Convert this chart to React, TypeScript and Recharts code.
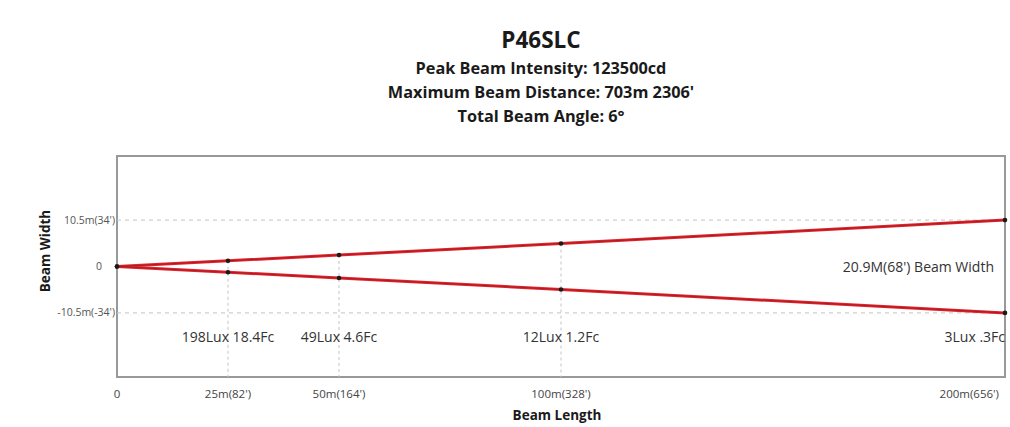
import React from "react";
import {
    ComposedChart, Line, XAxis, YAxis, ReferenceLine, ReferenceArea, ReferenceDot,
} from "recharts";

const distances = [0, 25, 50, 100, 200];
const upperWidth = [0, 1.3, 2.6, 5.2, 10.5];
const lowerWidth = [0, -1.3, -2.6, -5.2, -10.5];

const xTicks = [0, 25, 50, 100, 200];
const xTickLabels = ["0", "25m(82')", "50m(164')", "100m(328')", "200m(656')"];
const yTicks = [-10.5, 0, 10.5];
const yTickLabels = ["-10.5m(-34')", "0", "10.5m(34')"];

const luxDistances = [25, 50, 100, 200];
const luxLabels = ["198Lux 18.4Fc", "49Lux 4.6Fc", "12Lux 1.2Fc", "3Lux .3Fc"];
const luxRow = -16;
const beamWidthLabel = "20.9M(68') Beam Width";
const beamWidthAt = 180.5;

const titleLines = ["Peak Beam Intensity: 123500cd", "Maximum Beam Distance: 703m 2306'", "Total Beam Angle: 6\u00b0"];

const data = distances.map((d, i) => ({d, upper: upperWidth[i], lower: lowerWidth[i]}));

const FONT = "'Open Sans', sans-serif";
const RED = '#e3232c';

const XTick = (props: any) => {
    const {x, y, payload} = props;
    const i = xTicks.indexOf(payload.value);
    const last = i === xTicks.length - 1;
    return (
        <text x={last ? x + 1 : x} y={y + 13} textAnchor={last ? 'end' : 'middle'}
              fontSize={11.5} fill="#444" fontFamily={FONT}>{xTickLabels[i]}</text>
    );
};

const YTick = (props: any) => {
    const {y, payload} = props;
    const i = yTicks.indexOf(payload.value);
    const zero = payload.value === 0;
    return (
        <text x={zero ? 99 : 115} y={y} dy={3.5} textAnchor={zero ? 'middle' : 'end'}
              fontSize={10.5} fill="#555" fontFamily={FONT}>{yTickLabels[i]}</text>
    );
};

const textLabel = (anchor: string) => (props: any) => {
    const {viewBox, value} = props;
    const cx = viewBox.x + viewBox.width / 2;
    const cy = viewBox.y + viewBox.height / 2;
    return (
        <text x={cx} y={cy} dy={5} textAnchor={anchor} fontSize={14} fill="#333" fontFamily={FONT}>{value}</text>
    );
};

export default function App() {
    return (
        <div style={{position: 'absolute', left: 0, top: 0, width: 1010, height: 427, background: '#fff'}}>
            <div style={{
                position: 'absolute', left: 191, top: 24, width: 700, textAlign: 'center',
                fontFamily: FONT, fontWeight: 700, color: '#1a1a1a',
            }}>
                <div style={{fontSize: 22.5, lineHeight: '32px'}}>P46SLC</div>
                {titleLines.map((t) => (
                    <div key={t} style={{fontSize: 16.3, lineHeight: '24px'}}>{t}</div>
                ))}
            </div>
            <ComposedChart width={1010} height={427} data={data}
                           margin={{top: 156, right: 5, bottom: 0, left: 0}}
                           style={{position: 'absolute', left: 0, top: 0}}>
                <XAxis dataKey="d" type="number" domain={[0, 200]} ticks={xTicks}
                       tick={<XTick/>} tickLine={false} axisLine={false} height={50}
                       label={{
                           value: 'Beam Length',
                           content: () => (
                               <text x={557} y={420} textAnchor="middle"
                                     fontSize={13.5} fontWeight={700} fill="#1a1a1a" fontFamily={FONT}>Beam Length</text>
                           ),
                       }}/>
                <YAxis type="number" domain={[-25, 25]} ticks={yTicks} tick={<YTick/>}
                       tickLine={false} axisLine={false} width={117}
                       label={{
                           value: 'Beam Width',
                           content: () => (
                               <text x={50} y={251} transform="rotate(-90 50 251)" textAnchor="middle"
                                     fontSize={13.5} fontWeight={700} fill="#1a1a1a" fontFamily={FONT}>Beam Width</text>
                           ),
                       }}/>
                <ReferenceArea x1={0} x2={200} y1={-25} y2={25} fill="none" stroke="#999" strokeWidth={2}/>
                {yTicks.filter((v) => v !== 0).map((v) => (
                    <ReferenceLine key={v} y={v} stroke="#c4c4c4" strokeDasharray="4 4"/>
                ))}
                {distances.slice(1, -1).map((d, i) => (
                    <ReferenceLine key={d} segment={[{x: d, y: upperWidth[i + 1]}, {x: d, y: -25}]}
                                   stroke="#c4c4c4" strokeDasharray="3 3"/>
                ))}
                {luxDistances.map((d, i) => (
                    <ReferenceDot key={d} x={d} y={luxRow} r={0} fill="none" stroke="none"
                                  label={{value: luxLabels[i], content: textLabel(i === luxDistances.length - 1 ? 'end' : 'middle')}}/>
                ))}
                <ReferenceDot x={beamWidthAt} y={0} r={0} fill="none" stroke="none"
                              label={{value: beamWidthLabel, content: textLabel('middle')}}/>
                <Line dataKey="upper" type="linear" stroke={RED} strokeWidth={3} dot={false} isAnimationActive={false}/>
                <Line dataKey="lower" type="linear" stroke={RED} strokeWidth={3} dot={false} isAnimationActive={false}/>
                <Line dataKey="upper" type="linear" stroke="#7a1a1e" strokeWidth={0.7} strokeOpacity={0.8}
                      dot={{r: 2.3, fill: '#1a1a1a', stroke: 'none'}} isAnimationActive={false}/>
                <Line dataKey="lower" type="linear" stroke="#7a1a1e" strokeWidth={0.7} strokeOpacity={0.8}
                      dot={{r: 2.3, fill: '#1a1a1a', stroke: 'none'}} isAnimationActive={false}/>
            </ComposedChart>
        </div>
    );
}
